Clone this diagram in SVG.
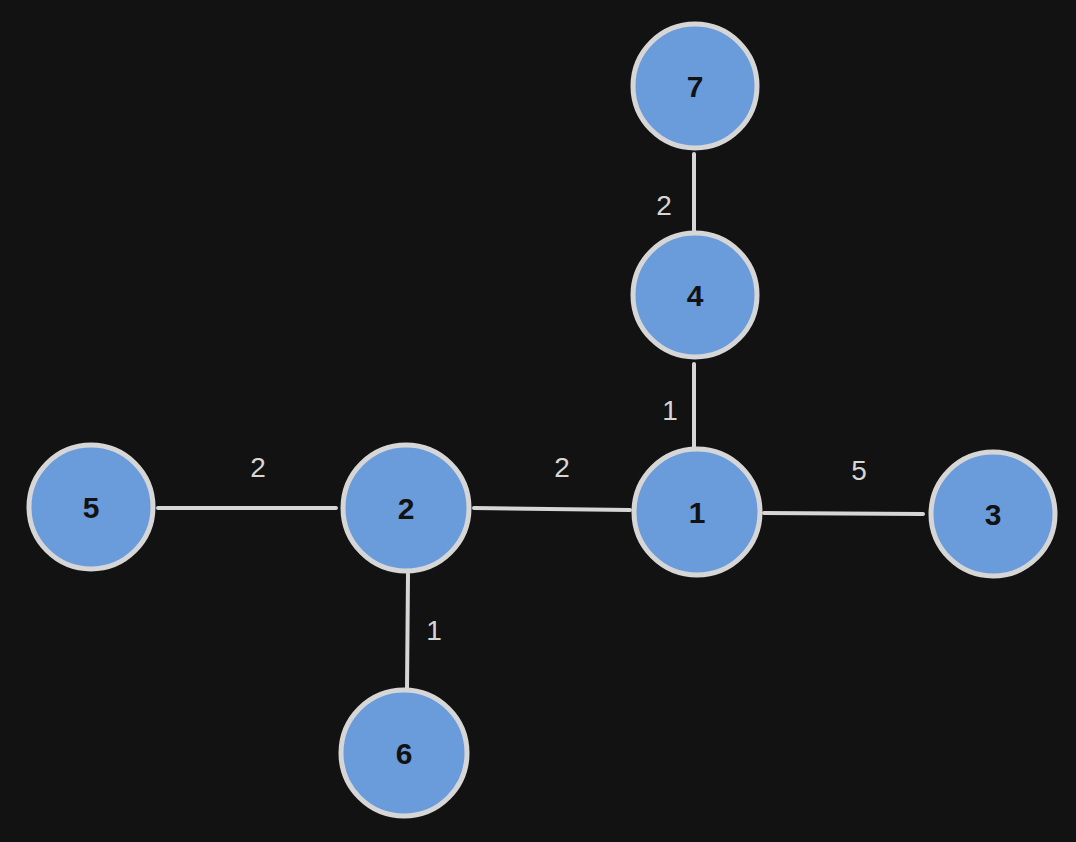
<svg xmlns="http://www.w3.org/2000/svg" width="1076" height="842" viewBox="0 0 1076 842">
<style>
.node circle{fill:#6a9bdb;stroke:#d6d6d6;stroke-width:5}
.node text{font-family:"Liberation Sans",Arial,sans-serif;font-size:30px;font-weight:bold;fill:#121212;text-anchor:middle;dominant-baseline:central}
.edges line{stroke:#d6d6d6;stroke-width:4;stroke-linecap:round}
.edges text{font-family:"Liberation Sans",Arial,sans-serif;font-size:28px;fill:#d6d6d6;text-anchor:middle;dominant-baseline:central}
</style>
<rect width="1076" height="842" fill="#121212"/>
<g id="edges" class="edges">
<line x1="694" y1="154" x2="694" y2="234"/>
<text x="664" y="205">2</text>
<line x1="694" y1="364" x2="694" y2="449"/>
<text x="670" y="410">1</text>
<line x1="158" y1="508" x2="336" y2="508"/>
<text x="258" y="467">2</text>
<line x1="474" y1="508" x2="630" y2="510"/>
<text x="562" y="467">2</text>
<line x1="764" y1="513" x2="923" y2="514"/>
<text x="859" y="470">5</text>
<line x1="408" y1="574" x2="407" y2="689"/>
<text x="434" y="630">1</text>
</g>
<g id="node7" class="node"><circle cx="695" cy="86" r="62"/><text x="695" y="86">7</text></g>
<g id="node4" class="node"><circle cx="695" cy="295" r="62"/><text x="695" y="295">4</text></g>
<g id="node1" class="node"><circle cx="697" cy="512" r="63"/><text x="697" y="512">1</text></g>
<g id="node3" class="node"><circle cx="993" cy="514" r="62"/><text x="993" y="514">3</text></g>
<g id="node2" class="node"><circle cx="406" cy="508" r="63"/><text x="406" y="508">2</text></g>
<g id="node5" class="node"><circle cx="91" cy="507" r="62"/><text x="91" y="507">5</text></g>
<g id="node6" class="node"><circle cx="404" cy="753" r="63"/><text x="404" y="753">6</text></g>
</svg>
